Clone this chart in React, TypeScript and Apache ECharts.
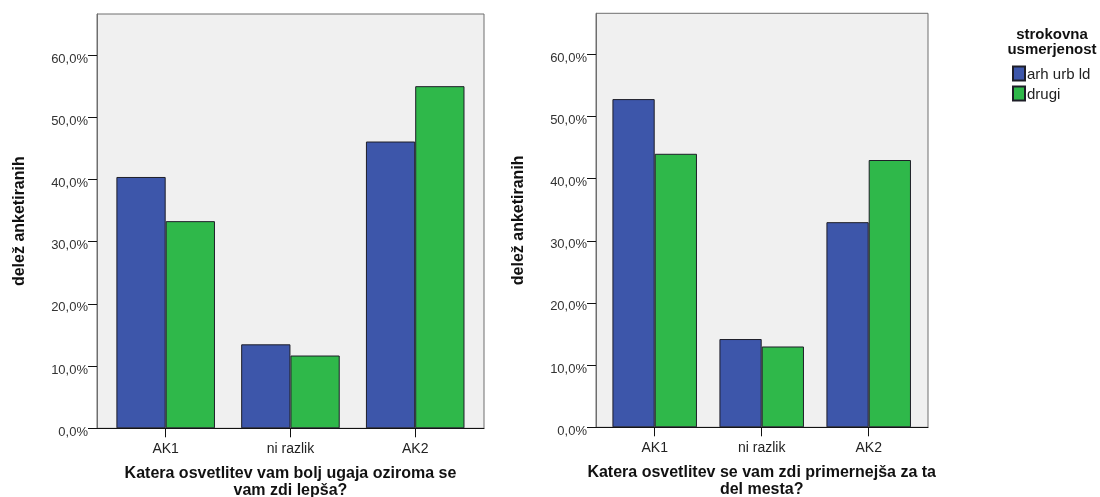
import React, { useEffect, useRef } from "react";
import * as echarts from "echarts";

const categories = ["AK1", "ni razlik", "AK2"];
const seriesNames = ["arh urb ld", "drugi"];
const leftArh = [40.4, 13.5, 46.1];
const leftDrugi = [33.3, 11.7, 55.0];
const rightArh = [52.8, 14.2, 33.0];
const rightDrugi = [44.0, 13.0, 43.0];
const yTicks = [0, 10, 20, 30, 40, 50, 60];
const yMax = 66.6;
const yAxisTitle = "delež anketiranih";
const leftXTitle = "Katera osvetlitev vam bolj ugaja oziroma se\nvam zdi lepša?";
const rightXTitle = "Katera osvetlitev se vam zdi primernejša za ta\ndel mesta?";
const legendTitle = "strokovna\nusmerjenost";

const FONT = "'Liberation Sans', Arial, Helvetica, sans-serif";
const BLUE = "#3d56aa";
const GREEN = "#2fb84a";

export default function App() {
  const ref = useRef<HTMLDivElement>(null);
  useEffect(() => {
    if (!ref.current) return;
    const chart = echarts.init(ref.current, null, { renderer: "svg" });
    const fmt = (v: number) => v.toFixed(1).replace(".", ",") + "%";

    const frameGrid = (left: number, top: number, width: number, height: number) => ({
      left, top, width, height, show: true, backgroundColor: "#f0f0f0",
      borderColor: "#6e6e6e", borderWidth: 1, containLabel: false, outerBoundsMode: "none",
    });
    const barGrid = (left: number, top: number, width: number, height: number) => ({
      left, top, width, height, containLabel: false, outerBoundsMode: "none",
    });

    const frameX = (gridIndex: number) => ({
      type: "value", gridIndex, min: 0, max: 1,
      axisLine: { show: true, lineStyle: { color: "#111", width: 1 } },
      axisTick: { show: false }, axisLabel: { show: false }, splitLine: { show: false },
    });
    const catX = (gridIndex: number, name: string) => ({
      type: "category", gridIndex, data: categories,
      axisLine: { show: false },
      axisTick: { show: true, alignWithLabel: true, length: 9, lineStyle: { color: "#111" } },
      axisLabel: { show: true, margin: 13, fontSize: 14, color: "#222", fontFamily: FONT },
      name, nameLocation: "middle", nameGap: 36,
      nameTextStyle: { fontSize: 16, fontWeight: "bold", color: "#111", fontFamily: FONT, lineHeight: 17 },
    });
    const frameY = (gridIndex: number) => ({
      type: "value", gridIndex, min: 0, max: yMax,
      axisLine: { show: true, lineStyle: { color: "#6e6e6e", width: 1 } },
      axisTick: { show: true, length: 9, lineStyle: { color: "#111" }, customValues: yTicks },
      axisLabel: {
        show: true, margin: 9, fontSize: 13, color: "#333", fontFamily: FONT, formatter: fmt,
        customValues: yTicks, verticalAlign: "top", lineHeight: 6,
      },
      splitLine: { show: false },
      name: yAxisTitle, nameLocation: "middle", nameGap: 71,
      nameTextStyle: { fontSize: 16, fontWeight: "bold", color: "#111", fontFamily: FONT },
    });
    const hiddenY = (gridIndex: number) => ({
      type: "value", gridIndex, min: 0, max: yMax, show: false, splitLine: { show: false },
    });

    const bar = (name: string, data: number[], color: string, xAxisIndex: number, yAxisIndex: number) => ({
      type: "bar", name, data, xAxisIndex, yAxisIndex,
      barGap: "0%", barCategoryGap: "21%",
      itemStyle: { color, borderColor: "#1e1e28", borderWidth: 1 },
    });

    chart.setOption({
      animation: false,
      textStyle: { fontFamily: FONT },
      grid: [
        frameGrid(97, 14, 387, 414.3),
        barGrid(103.3, 14, 374.3, 414.3),
        frameGrid(596, 13.3, 332, 414),
        barGrid(601.2, 13.3, 321, 414),
      ],
      xAxis: [frameX(0), catX(1, leftXTitle), frameX(2), catX(3, rightXTitle)],
      yAxis: [frameY(0), hiddenY(1), frameY(2), hiddenY(3)],
      legend: {
        orient: "vertical", left: 1012, top: 65.5, padding: 0, itemWidth: 12, itemHeight: 14, itemGap: 4,
        data: seriesNames, icon: "rect",
        textStyle: { fontSize: 15, color: "#222", fontFamily: FONT, padding: [0, 0, 0, -3] },
        selectedMode: false,
      },
      graphic: [
        {
          type: "text", left: 1052 - 46, top: 26,
          style: { text: legendTitle, font: `bold 15px ${FONT}`, fill: "#111", textAlign: "center", lineHeight: 15, width: 92 },
        },
      ],
      series: [
        bar(seriesNames[0], leftArh, BLUE, 1, 1),
        bar(seriesNames[1], leftDrugi, GREEN, 1, 1),
        bar(seriesNames[0], rightArh, BLUE, 3, 3),
        bar(seriesNames[1], rightDrugi, GREEN, 3, 3),
      ],
    });
    return () => chart.dispose();
  }, []);
  return <div ref={ref} style={{ position: "fixed", left: 0, top: 0, width: 1100, height: 497 }} />;
}
